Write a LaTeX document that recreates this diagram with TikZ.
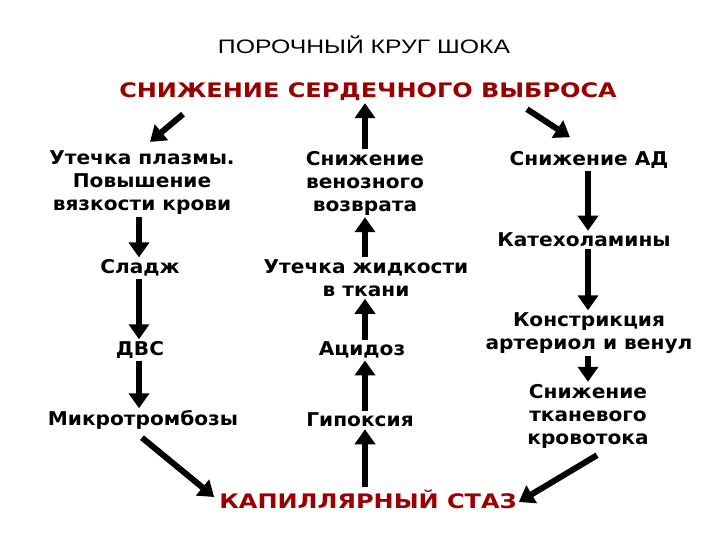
\documentclass[tikz,border=0pt]{standalone}
\usepackage{fontspec}
\setmainfont{DejaVu Sans}
\newfontfamily\titlefont[FakeStretch=1.27]{Liberation Sans}
\newfontfamily\stagefont[FakeStretch=1.06]{DejaVu Sans}
\newfontfamily\keyfont[FakeStretch=1.2]{DejaVu Sans}
\usepackage{xcolor}
\usetikzlibrary{arrows.meta, positioning, calc}
\definecolor{shockred}{RGB}{153,0,0}

\begin{document}
\begin{tikzpicture}[x=1pt, y=-1pt,
  box/.style={align=center, inner sep=2pt,
              font=\stagefont\fontsize{19}{23}\selectfont\bfseries},
  key/.style={align=center, inner sep=2pt, text=shockred,
              font=\keyfont\fontsize{20}{24}\selectfont\bfseries},
  arr/.style={-{Triangle[length=15pt, width=20pt]}, line width=6pt}
]
\useasboundingbox (0,0) rectangle (720,540);
\coordinate (leftcol)  at (139,0);
\coordinate (midcol)   at (365,0);
\coordinate (rightcol) at (588,0);

\node[font=\titlefont\fontsize{19.5}{23}\selectfont] (title) at (364,45) {ПОРОЧНЫЙ КРУГ ШОКА};
\node[key] (heart)  at (368,92)  {СНИЖЕНИЕ СЕРДЕЧНОГО ВЫБРОСА};
\node[key] (stasis) at (368,499) {КАПИЛЛЯРНЫЙ СТАЗ};

% left column
\node[box] (plasma) at (142,183) {Утечка плазмы.\\Повышение\\вязкости крови};
\node[box] (sludge) at (140,268) {Сладж};
\node[box] (dic)    at (140,350) {ДВС};
\node[box] (micro)  at (143,420) {Микротромбозы};

% middle column
\node[box] (venous) at (365,183) {Снижение\\венозного\\возврата};
\node[box] (leak)   at (366,278) {Утечка жидкости\\в ткани};
\node[box] (acid)   at (362,350) {Ацидоз};
\node[box] (hypox)  at (360,420) {Гипоксия};

% right column
\node[box] (bp)     at (589,160) {Снижение АД};
\node[box] (cat)    at (584,240) {Катехоламины};
\node[box] (constr) at (589,333) {Констрикция\\артериол и венул};
\node[box] (tissue) at (588,416) {Снижение\\тканевого\\кровотока};

\draw[arr] ([shift={(-185,11)}]heart.south) -- ([shift={(8,-7)}]plasma.north);
\draw[arr] ([shift={(159,6)}]heart.south) -- ([shift={(-19,-12)}]bp.north);
\draw[arr] (venous.north -| midcol) -- (heart.south -| midcol);

\draw[arr] (plasma.south -| leftcol) -- (sludge.north -| leftcol);
\draw[arr] (sludge.south -| leftcol) -- (dic.north -| leftcol);
\draw[arr] (dic.south -| leftcol) -- (micro.north -| leftcol);
\draw[arr] ([shift={(-1,6)}]micro.south) -- ([shift={(-3,-2)}]stasis.west);

\draw[arr] (stasis.north -| midcol) -- (hypox.south -| midcol);
\draw[arr] (hypox.north -| midcol) -- (acid.south -| midcol);
\draw[arr] (acid.north -| midcol) -- (leak.south -| midcol);
\draw[arr] (leak.north -| midcol) -- (venous.south -| midcol);

\draw[arr] (bp.south -| rightcol) -- (cat.north -| rightcol);
\draw[arr] (cat.south -| rightcol) -- (constr.north -| rightcol);
\draw[arr] (constr.south -| rightcol) -- (tissue.north -| rightcol);
\draw[arr] ([shift={(9,5)}]tissue.south) -- ([shift={(0,3)}]stasis.east);
\end{tikzpicture}
\end{document}
